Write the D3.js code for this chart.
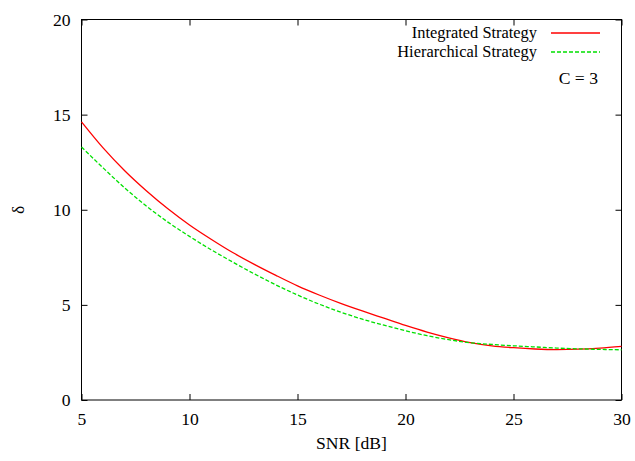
<!DOCTYPE html>
<html>
<head>
<meta charset="utf-8">
<script src="https://cdn.jsdelivr.net/npm/d3@7"></script>
<style>
body { margin: 0; background: #fff; }
</style>
</head>
<body>
<script>
// values
const snr = [5, 6, 7, 8, 9, 10, 11, 12, 13, 14, 15, 16, 17, 18, 19, 20, 21, 22, 23, 24, 25, 26, 27, 28, 29, 30];
const integrated = [14.62, 13.25, 12.05, 11.0, 10.05, 9.2, 8.45, 7.75, 7.13, 6.55, 6.0, 5.52, 5.08, 4.68, 4.3, 3.92, 3.57, 3.27, 3.02, 2.85, 2.75, 2.68, 2.65, 2.67, 2.73, 2.82];
const hierarchical = [13.3, 12.2, 11.15, 10.2, 9.35, 8.6, 7.9, 7.25, 6.63, 6.05, 5.52, 5.04, 4.62, 4.25, 3.93, 3.64, 3.38, 3.17, 3.01, 2.92, 2.85, 2.79, 2.73, 2.69, 2.66, 2.64];
const xTicks = [5, 10, 15, 20, 25, 30];
const yTicks = [0, 5, 10, 15, 20];
const seriesNames = ["Integrated Strategy", "Hierarchical Strategy"];

const width = 635, height = 461;
const margin = {left: 81.5, right: 13.5, top: 19.5, bottom: 61};
const font = "'Liberation Serif', 'Times New Roman', Times, 'DejaVu Serif', serif";

const svg = d3.select("body").append("svg")
	.attr("width", width)
	.attr("height", height);

const x = d3.scaleLinear().domain([5, 30]).range([margin.left, width - margin.right]);
const y = d3.scaleLinear().domain([0, 20]).range([height - margin.bottom, margin.top]);

// ticks on all four sides, pointing inward
svg.append("g")
	.attr("transform", `translate(0,${y(0)})`)
	.call(d3.axisBottom(x).tickValues(xTicks).tickSize(-6).tickPadding(13))
	.call(g => g.select(".domain").remove());
svg.append("g")
	.attr("transform", `translate(0,${y(20)})`)
	.call(d3.axisTop(x).tickValues(xTicks).tickSize(-6).tickFormat(""))
	.call(g => g.select(".domain").remove());
svg.append("g")
	.attr("transform", `translate(${x(5)},0)`)
	.call(d3.axisLeft(y).tickValues(yTicks).tickSize(-6).tickPadding(11))
	.call(g => g.select(".domain").remove());
svg.append("g")
	.attr("transform", `translate(${x(30)},0)`)
	.call(d3.axisRight(y).tickValues(yTicks).tickSize(-6).tickFormat(""))
	.call(g => g.select(".domain").remove());

svg.selectAll("g").attr("font-family", null).attr("font-size", null);
svg.selectAll(".tick line").attr("stroke", "#000");

svg.append("rect")
	.attr("x", x(5)).attr("y", y(20))
	.attr("width", x(30) - x(5)).attr("height", y(0) - y(20))
	.attr("fill", "none").attr("stroke", "#000").attr("stroke-width", 1);

const line = d3.line()
	.x((d, i) => x(snr[i]))
	.y(d => y(d))
	.curve(d3.curveMonotoneX);

const styles = [
	{color: "#ff0000", dash: null},
	{color: "#00e000", dash: "4,2"}
];

[integrated, hierarchical].forEach((s, k) => {
	svg.append("path")
		.datum(s)
		.attr("d", line)
		.attr("fill", "none")
		.attr("stroke", styles[k].color)
		.attr("stroke-width", 1.3)
		.attr("stroke-dasharray", styles[k].dash);
});

svg.selectAll("text")
	.attr("font-family", font)
	.attr("font-size", 17.6)
	.attr("fill", "#000");

// legend
const legend = svg.append("g")
	.attr("font-family", font)
	.attr("font-size", 16.4);
seriesNames.forEach((name, k) => {
	const ly = 33 + k * 19;
	legend.append("text")
		.attr("x", 537).attr("y", ly)
		.attr("dy", "0.33em")
		.attr("text-anchor", "end")
		.text(name);
	legend.append("line")
		.attr("x1", 551).attr("x2", 600)
		.attr("y1", ly).attr("y2", ly)
		.attr("stroke", styles[k].color)
		.attr("stroke-width", 1.3)
		.attr("stroke-dasharray", styles[k].dash);
});
legend.append("text")
	.attr("x", 598).attr("y", 78)
	.attr("dy", "0.33em")
	.attr("text-anchor", "end")
	.attr("font-size", 17.6)
	.text("C = 3");

// axis titles
const titles = svg.append("g")
	.attr("font-family", font)
	.attr("font-size", 17.6);
titles.append("text")
	.attr("x", (x(5) + x(30)) / 2).attr("y", 443)
	.attr("dy", "0.33em")
	.attr("text-anchor", "middle")
	.text("SNR [dB]");
titles.append("text")
	.attr("transform", `translate(18,${y(10)}) rotate(-90)`)
	.attr("dy", "0.33em")
	.attr("text-anchor", "middle")
	.text("δ");
</script>
</body>
</html>
